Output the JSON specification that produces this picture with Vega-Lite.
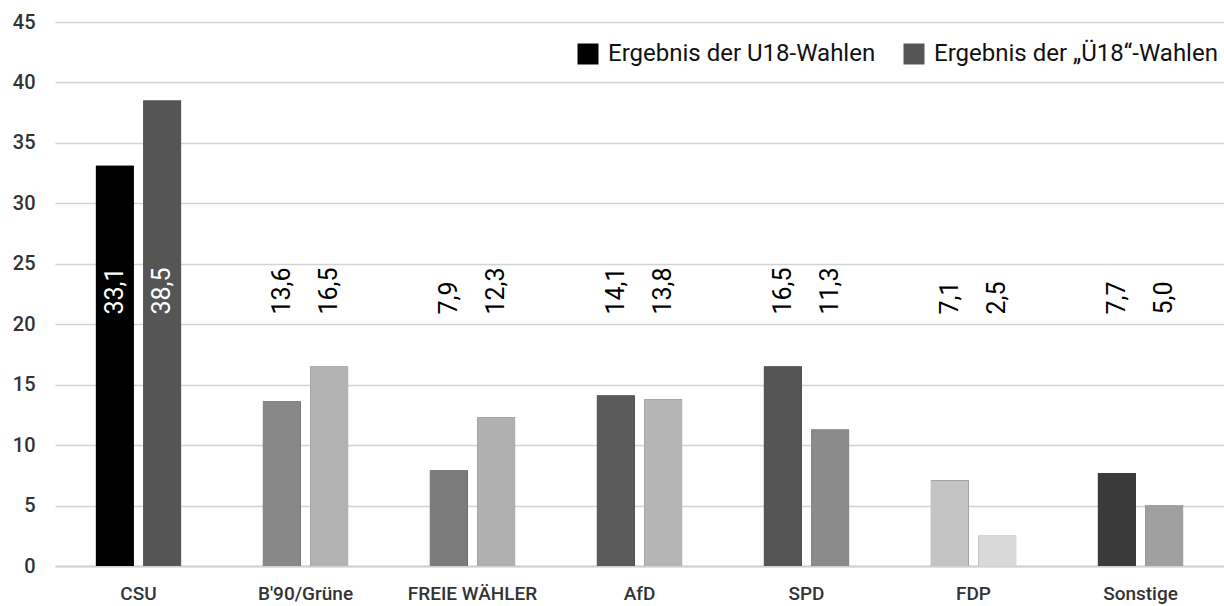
{
  "$schema": "https://vega.github.io/schema/vega-lite/v6.json",
  "width": 1169,
  "height": 544,
  "autosize": {"type": "none"},
  "padding": {"left": 55, "top": 22, "right": 0, "bottom": 40},
  "background": "white",
  "config": {
    "view": {"stroke": null},
    "font": "Roboto",
    "locale": {"number": {"decimal": ",", "thousands": ".", "grouping": [3], "currency": ["", " €"]}},
    "axis": {"labelFont": "Roboto", "labelColor": "#333333", "labelFontSize": 19, "labelFontWeight": 500, "ticks": false}
  },
  "data": {
    "values": [
      {"partei": "CSU", "serie": "Ergebnis der U18-Wahlen", "balken": "CSU U18", "wert": 33.1},
      {"partei": "CSU", "serie": "Ergebnis der „Ü18“-Wahlen", "balken": "CSU Ü18", "wert": 38.5},
      {"partei": "B'90/Grüne", "serie": "Ergebnis der U18-Wahlen", "balken": "Grüne U18", "wert": 13.6},
      {"partei": "B'90/Grüne", "serie": "Ergebnis der „Ü18“-Wahlen", "balken": "Grüne Ü18", "wert": 16.5},
      {"partei": "FREIE WÄHLER", "serie": "Ergebnis der U18-Wahlen", "balken": "FW U18", "wert": 7.9},
      {"partei": "FREIE WÄHLER", "serie": "Ergebnis der „Ü18“-Wahlen", "balken": "FW Ü18", "wert": 12.3},
      {"partei": "AfD", "serie": "Ergebnis der U18-Wahlen", "balken": "AfD U18", "wert": 14.1},
      {"partei": "AfD", "serie": "Ergebnis der „Ü18“-Wahlen", "balken": "AfD Ü18", "wert": 13.8},
      {"partei": "SPD", "serie": "Ergebnis der U18-Wahlen", "balken": "SPD U18", "wert": 16.5},
      {"partei": "SPD", "serie": "Ergebnis der „Ü18“-Wahlen", "balken": "SPD Ü18", "wert": 11.3},
      {"partei": "FDP", "serie": "Ergebnis der U18-Wahlen", "balken": "FDP U18", "wert": 7.1},
      {"partei": "FDP", "serie": "Ergebnis der „Ü18“-Wahlen", "balken": "FDP Ü18", "wert": 2.5},
      {"partei": "Sonstige", "serie": "Ergebnis der U18-Wahlen", "balken": "Sonstige U18", "wert": 7.7},
      {"partei": "Sonstige", "serie": "Ergebnis der „Ü18“-Wahlen", "balken": "Sonstige Ü18", "wert": 5.0}
    ]
  },
  "encoding": {
    "x": {
      "field": "partei", "type": "nominal", "sort": null,
      "scale": {"paddingInner": 0.49, "paddingOuter": 0.245},
      "axis": {"title": null, "labelAngle": 0, "labelPadding": 18, "domainColor": "#d0d0d0", "domainWidth": 2, "grid": false}
    },
    "xOffset": {
      "field": "serie", "type": "nominal", "sort": null,
      "scale": {"paddingInner": 0.2, "paddingOuter": 0}
    }
  },
  "layer": [
    {
      "mark": {"type": "bar"},
      "encoding": {
        "y": {
          "field": "wert", "type": "quantitative",
          "scale": {"domain": [0, 45]},
          "axis": {"title": null, "values": [0, 5, 10, 15, 20, 25, 30, 35, 40, 45], "domain": false, "labelPadding": 20, "labelFontSize": 20, "gridColor": "#d3d3d3", "gridWidth": 1.6}
        },
        "color": {
          "field": "serie", "type": "nominal",
          "scale": {"domain": ["Ergebnis der U18-Wahlen", "Ergebnis der „Ü18“-Wahlen"], "range": ["#000000", "#555555"]},
          "legend": {
            "title": null, "orient": "none", "direction": "horizontal", "legendX": 521, "legendY": 20,
            "symbolType": "square", "symbolSize": 441, "symbolStrokeWidth": 0,
            "labelFontSize": 24, "labelFont": "Roboto", "labelColor": "#111111",
            "labelOffset": 8, "columnPadding": 26, "labelLimit": 400
          }
        }
      }
    },
    {
      "mark": {"type": "bar"},
      "encoding": {
        "y": {"field": "wert", "type": "quantitative"},
        "color": {
          "field": "balken", "type": "nominal", "legend": null,
          "scale": {
            "domain": ["CSU U18", "CSU Ü18", "Grüne U18", "Grüne Ü18", "FW U18", "FW Ü18", "AfD U18", "AfD Ü18", "SPD U18", "SPD Ü18", "FDP U18", "FDP Ü18", "Sonstige U18", "Sonstige Ü18"],
            "range": ["#000000", "#555555", "#888888", "#b3b3b3", "#7b7b7b", "#b0b0b0", "#5a5a5a", "#b5b5b5", "#555555", "#8a8a8a", "#c3c3c3", "#d9d9d9", "#3a3a3a", "#a0a0a0"]
          }
        }
      }
    },
    {
      "mark": {"type": "text", "angle": 270, "align": "left", "baseline": "middle", "fontSize": 25, "font": "Roboto"},
      "encoding": {
        "y": {"datum": 20.8, "type": "quantitative", "title": null},
        "text": {"field": "wert", "type": "quantitative", "format": ".1f"},
        "color": {"condition": {"test": "datum.partei === 'CSU'", "value": "#ffffff"}, "value": "#000000"}
      }
    }
  ],
  "resolve": {"scale": {"color": "independent"}, "legend": {"color": "independent"}}
}
